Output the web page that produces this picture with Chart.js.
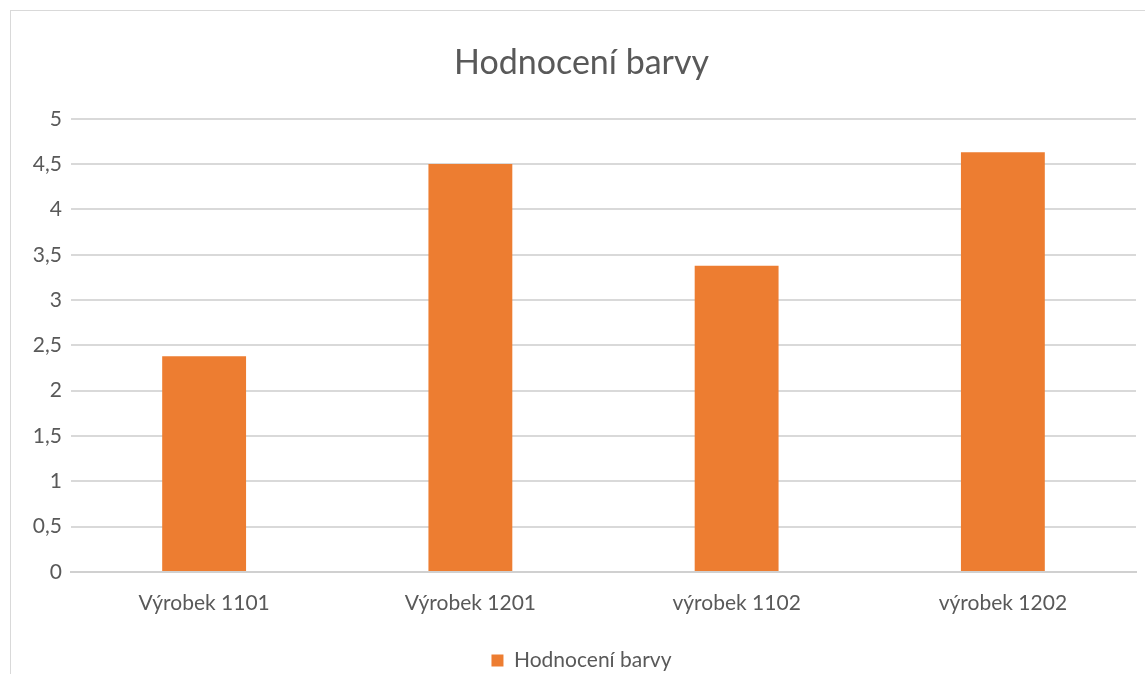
<!DOCTYPE html>
<html>
<head>
<meta charset="utf-8">
<script src="https://cdn.jsdelivr.net/npm/chart.js@4"></script>
<style>
  html, body { margin: 0; padding: 0; background: #fff; }
  #wrap { position: relative; width: 1145px; height: 674px; }
  #frame { position: absolute; left: 10px; top: 10px; width: 1145px; height: 674px; border: 1px solid #d9d9d9; pointer-events: none; box-sizing: border-box; }
</style>
</head>
<body>
<div id="wrap">
  <canvas id="c" width="1145" height="674"></canvas>
  <div id="frame"></div>
</div>
<script>
const categories = ["Výrobek 1101", "Výrobek 1201", "výrobek 1102", "výrobek 1202"];
const seriesName = "Hodnocení barvy";
const values = [2.38, 4.5, 3.38, 4.63];
const chartTitle = "Hodnocení barvy";
const yMin = 0, yMax = 5, yStep = 0.5;

const FONT = "Lato, 'Open Sans', sans-serif";
const TXT = "#595959";

new Chart(document.getElementById("c"), {
  type: "bar",
  data: {
    labels: categories,
    datasets: [{
      label: seriesName,
      data: values,
      backgroundColor: "#ed7d31",
      borderWidth: 0,
      barPercentage: 0.315,
      categoryPercentage: 1.0
    }]
  },
  options: {
    responsive: false,
    animation: false,
    layout: { padding: { left: 27, right: 9, top: 10, bottom: -7 } },
    plugins: {
      title: {
        display: true,
        text: chartTitle,
        color: TXT,
        font: { family: FONT, size: 34, weight: "normal" },
        padding: { top: 33, bottom: 35 }
      },
      legend: {
        display: true,
        position: "bottom",
        labels: {
          color: TXT,
          font: { family: FONT, size: 21 },
          boxWidth: 12,
          boxHeight: 12,
          padding: 0
        }
      },
      tooltip: { enabled: false }
    },
    scales: {
      x: {
        afterFit: (s) => { s.height = 78; },
        grid: { display: false, drawTicks: false },
        border: { display: true, color: "#d0d0d0", width: 2 },
        ticks: { color: TXT, font: { family: FONT, size: 21 }, padding: 19, maxRotation: 0 }
      },
      y: {
        min: yMin, max: yMax,
        afterFit: (s) => { s.width = 44; },
        grid: { color: "#d9d9d9", lineWidth: 2, drawTicks: false },
        border: { display: false },
        ticks: {
          stepSize: yStep,
          color: TXT,
          font: { family: FONT, size: 21 },
          padding: 9,
          callback: (v) => String(v).replace(".", ",")
        }
      }
    }
  }
});
</script>
</body>
</html>
